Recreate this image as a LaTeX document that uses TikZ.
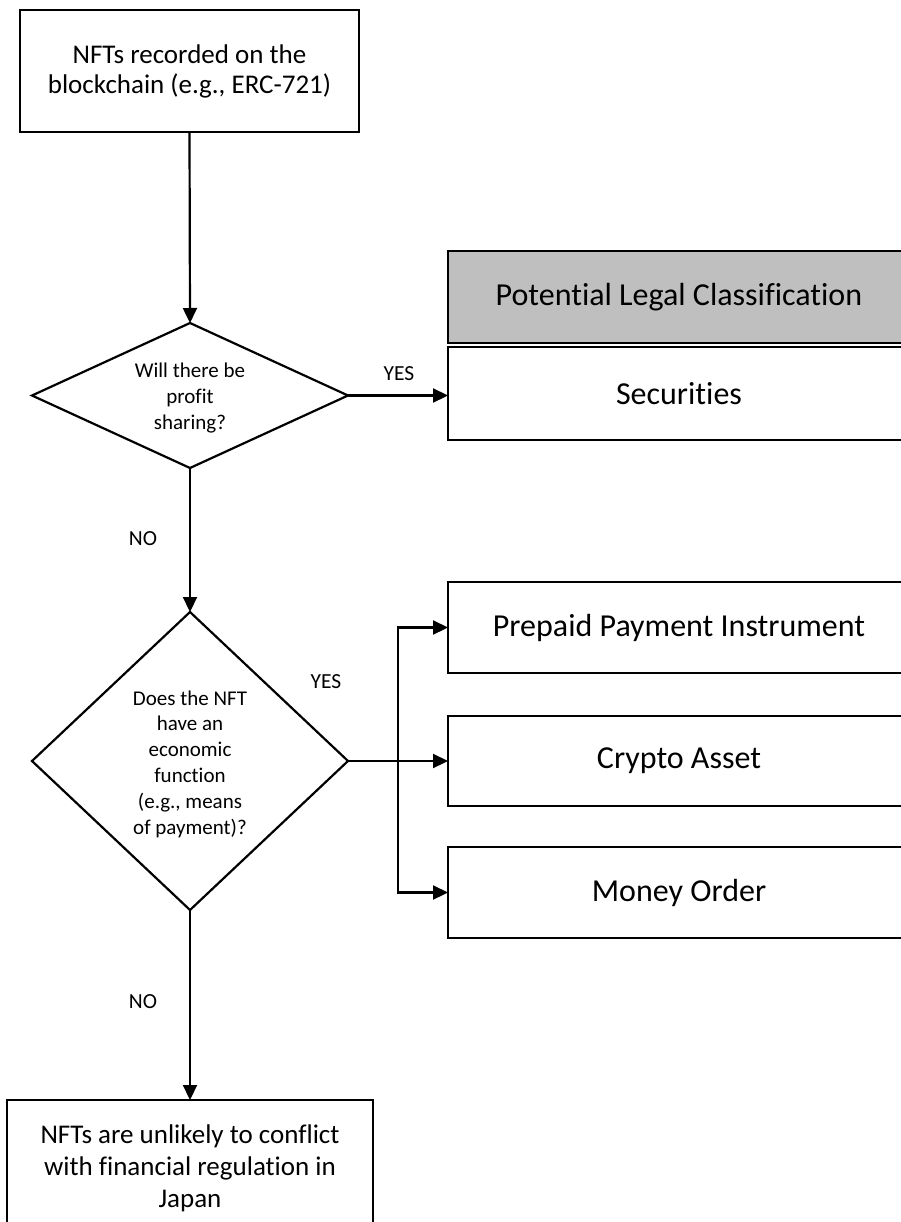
\documentclass[tikz,border=0pt]{standalone}
\usepackage{fontspec}
\setmainfont{Carlito}[Ligatures=CommonOff]
\usetikzlibrary{shapes.geometric,arrows.meta}
\begin{document}
\begin{tikzpicture}[x=1pt,y=-1pt,
  line width=2.2pt,
  every node/.style={inner sep=0pt, outer sep=0pt},
  decision/.style={draw, diamond, minimum width=316pt, minimum height=#1},
  qtext/.style={align=center, font=\fontsize{21}{25.8}\selectfont},
  bigtext/.style={align=center, font=\fontsize{27}{30}\selectfont},
  endtext/.style={align=center, font=\fontsize{27}{32}\selectfont},
  cattext/.style={font=\fontsize{32}{34}\selectfont},
  lbl/.style={font=\fontsize{21.5}{24}\selectfont},
  arr/.style={-{Triangle[length=15pt,width=14pt]}},
  catbox/.style={draw, rectangle, minimum width=462pt, minimum height=#1, cattext}
]
\useasboundingbox (0,0) rectangle (900,1222);

% top box
\node[draw, minimum width=339pt, minimum height=122pt, bigtext] (top) at (189.5,71)
  {NFTs recorded on the\\blockchain (e.g., ERC-721)};

% decision 1
\node[decision=145pt] (d1) at (190,395.5) {};
\node[qtext] (d1t) at (190,398) {Will there be\\profit\\sharing?};

% decision 2
\node[decision=298pt] (d2) at (190,761) {};
\node[qtext] (d2t) at (190,764) {Does the NFT\\have an\\economic\\function\\(e.g., means\\of payment)?};

% category boxes (cut off at the right edge)
\node[catbox=92pt, fill=black!25] (head) at (679,297) {Potential Legal Classification};
\node[catbox=93pt] (sec) at (679,393.5) {Securities};
\node[catbox=91pt] (pre) at (679,627.5) {Prepaid Payment Instrument};
\node[catbox=90pt] (cry) at (679,761) {Crypto Asset};
\node[catbox=91pt] (mon) at (679,892.5) {Money Order};

% bottom box
\node[draw, minimum width=366pt, minimum height=130pt] (bot) at (190,1165) {};
\node[endtext] (bott) at (190,1168)
  {NFTs are unlikely to conflict\\with financial regulation in\\Japan};

% connectors
\draw[arr] (top.south) -- (d1.north);
\draw[arr] (d1.east) -- (d1.east -| sec.west);
\draw[arr] (d1.south) -- (d2.north);
\coordinate (br) at (398,761);
\draw[arr] (d2.east) -- (cry.west);
\draw[arr] (br) |- (pre.west);
\draw[arr] (br) |- (mon.west);
\draw[arr] (d2.south) -- (bot.north);

% labels
\node[lbl] (yes1) at (399,374) {YES};
\node[lbl] (no1) at (143,539) {NO};
\node[lbl] (yes2) at (326,682) {YES};
\node[lbl] (no2) at (143,1002) {NO};
\end{tikzpicture}
\end{document}
